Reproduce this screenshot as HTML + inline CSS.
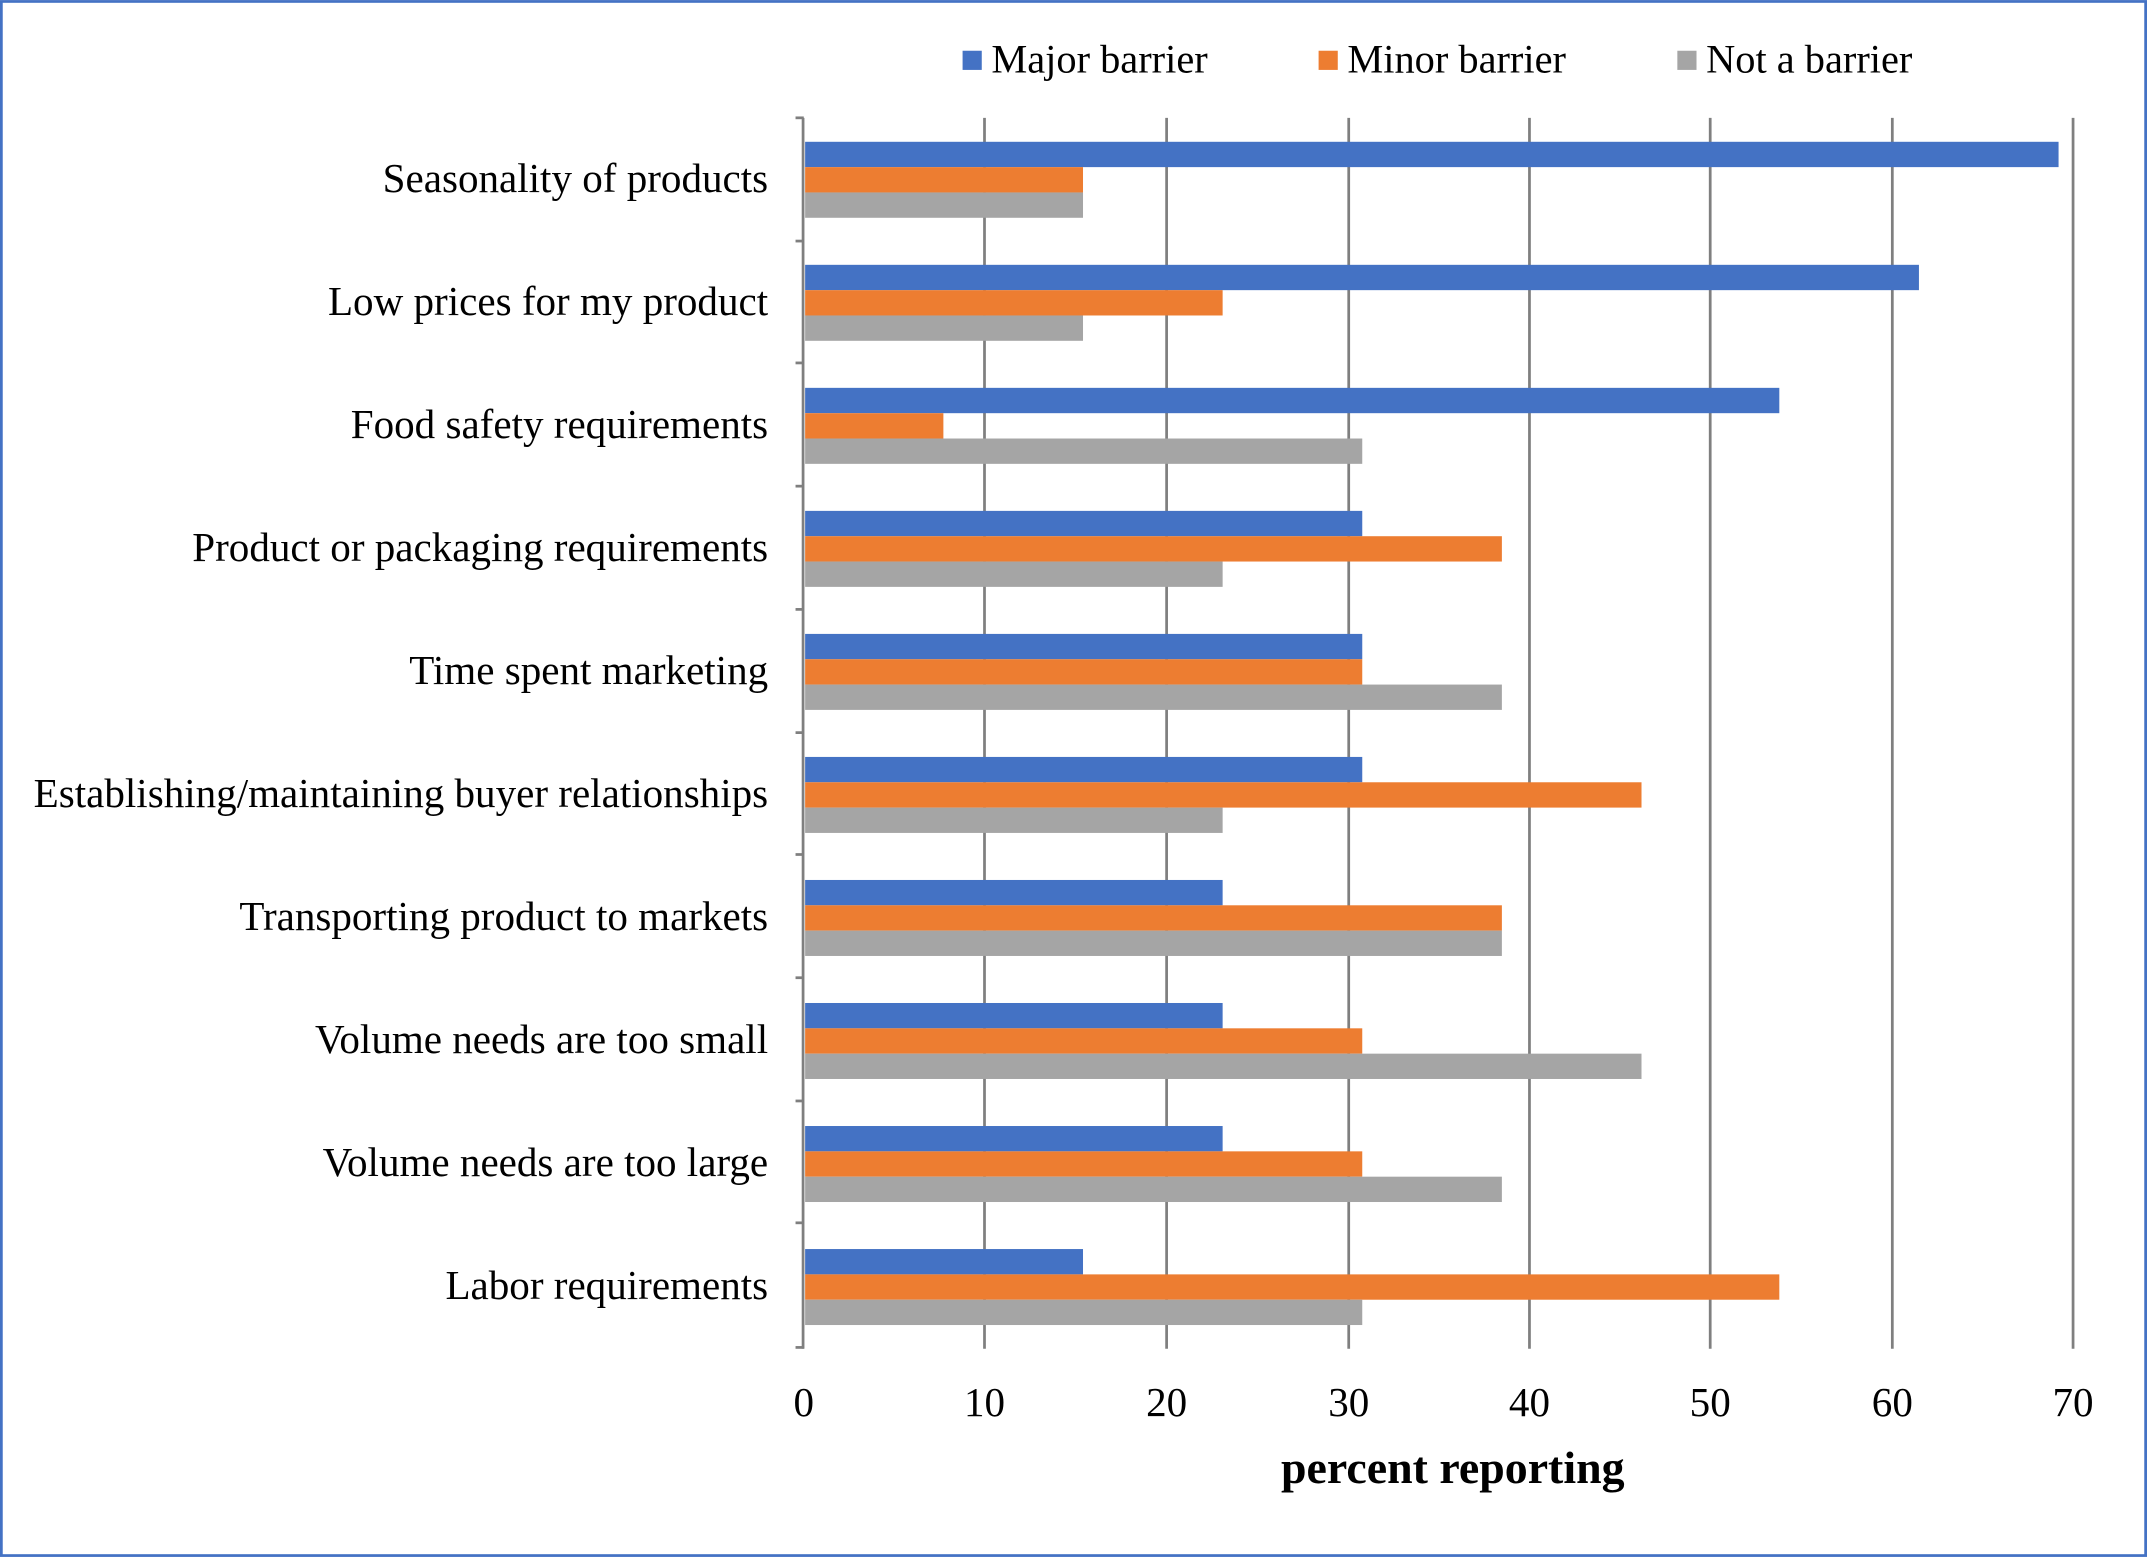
<!DOCTYPE html>
<html><head><style>html,body{margin:0;padding:0;background:#fff}</style></head>
<body>
<svg width="2147" height="1557" viewBox="0 0 1568 1137" xmlns="http://www.w3.org/2000/svg" font-family="'Liberation Serif', serif">
<rect x="0" y="0" width="1568" height="1137" fill="#fff"/>
<rect x="1" y="1" width="1566" height="1135" fill="none" stroke="#4472C4" stroke-width="2"/>
<g stroke="#7f7f7f" stroke-width="2">
<line x1="719" y1="86" x2="719" y2="985"/><line x1="852" y1="86" x2="852" y2="985"/>
<line x1="985" y1="86" x2="985" y2="985"/><line x1="1117" y1="86" x2="1117" y2="985"/>
<line x1="1249" y1="86" x2="1249" y2="985"/><line x1="1382" y1="86" x2="1382" y2="985"/>
<line x1="1514" y1="86" x2="1514" y2="985"/>
<line x1="586.5" y1="86" x2="586.5" y2="985"/>
<line x1="581" y1="86" x2="587" y2="86"/><line x1="581" y1="176" x2="587" y2="176"/>
<line x1="581" y1="265" x2="587" y2="265"/><line x1="581" y1="355" x2="587" y2="355"/>
<line x1="581" y1="445" x2="587" y2="445"/><line x1="581" y1="535" x2="587" y2="535"/>
<line x1="581" y1="624" x2="587" y2="624"/><line x1="581" y1="714" x2="587" y2="714"/>
<line x1="581" y1="804" x2="587" y2="804"/><line x1="581" y1="893" x2="587" y2="893"/>
<line x1="581" y1="984" x2="587" y2="984"/>
</g>
<g id="bars"></g>
<g font-size="30" text-anchor="end" fill="#000" id="labels"></g>
<g font-size="30" text-anchor="middle" fill="#000">
<text x="587" y="1034">0</text><text x="719" y="1034">10</text><text x="852" y="1034">20</text>
<text x="985" y="1034">30</text><text x="1117" y="1034">40</text><text x="1249" y="1034">50</text>
<text x="1382" y="1034">60</text><text x="1514" y="1034">70</text>
</g>
<text x="1061" y="1083" font-size="33.5" font-weight="bold" text-anchor="middle">percent reporting</text>
<g font-size="29.5">
<rect x="703" y="37" width="14" height="14" fill="#4472C4"/><text x="724" y="53">Major barrier</text>
<rect x="963" y="37" width="14" height="14" fill="#ED7D31"/><text x="984" y="53">Minor barrier</text>
<rect x="1225" y="37" width="14" height="14" fill="#A5A5A5"/><text x="1246" y="53">Not a barrier</text>
</g>
<script>
var d=[["Seasonality of products",69.2,15.4,15.4],["Low prices for my product",61.5,23.1,15.4],["Food safety requirements",53.8,7.7,30.8],["Product or packaging requirements",30.8,38.5,23.1],["Time spent marketing",30.8,30.8,38.5],["Establishing/maintaining buyer relationships",30.8,46.2,23.1],["Transporting product to markets",23.1,38.5,38.5],["Volume needs are too small",23.1,30.8,46.2],["Volume needs are too large",23.1,30.8,38.5],["Labor requirements",15.4,53.8,30.8]];
var c=["#4472C4","#ED7D31","#A5A5A5"],ns="http://www.w3.org/2000/svg";
var b=document.getElementById("bars"),l=document.getElementById("labels");
d.forEach(function(r,i){var cy=131+i*89.85;
for(var k=0;k<3;k++){var e=document.createElementNS(ns,"rect");e.setAttribute("x",588);e.setAttribute("y",cy-27.5+k*18.5);e.setAttribute("width",r[k+1]*13.243-1);e.setAttribute("height",18.5);e.setAttribute("fill",c[k]);b.appendChild(e);}
var t=document.createElementNS(ns,"text");t.setAttribute("x",561);t.setAttribute("y",cy+9);t.textContent=r[0];l.appendChild(t);});
</script>
</svg>
</body></html>
